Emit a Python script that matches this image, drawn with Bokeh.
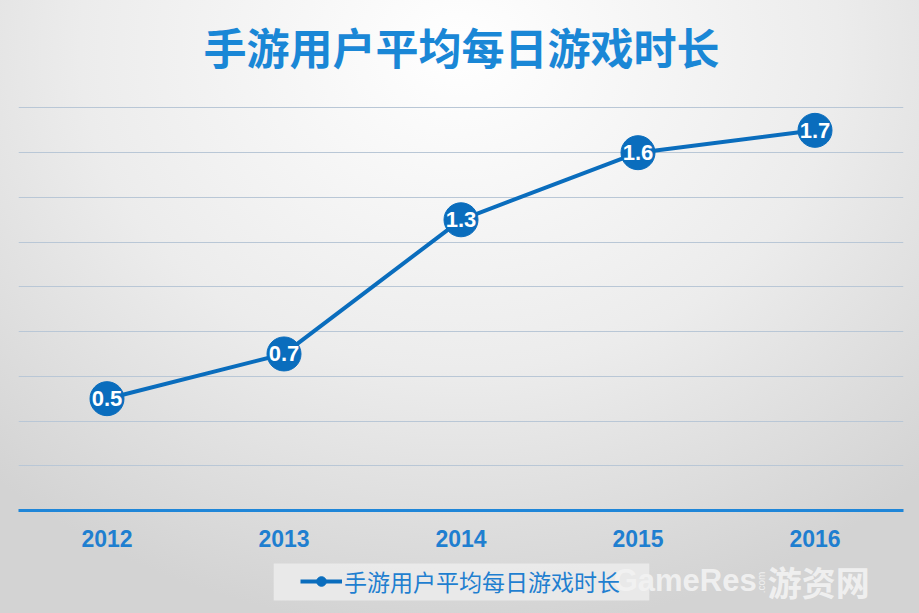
import math
from bokeh.plotting import figure
from bokeh.layouts import column
from bokeh.models import ColumnDataSource, Range1d, Legend, LegendItem, Label, BoxAnnotation
from bokeh.core.properties import value
from bokeh.embed import file_html
from bokeh.resources import INLINE

years = ["2012", "2013", "2014", "2015", "2016"]
hours = [0.5, 0.7, 1.3, 1.6, 1.7]
labels = ["0.5", "0.7", "1.3", "1.6", "1.7"]
series_name = "手游用户平均每日游戏时长"
title_text = "手游用户平均每日游戏时长"
grid_values = [0.2, 0.4, 0.6, 0.8, 1.0, 1.2, 1.4, 1.6, 1.8]

BLUE = "#0a6dbd"
src = ColumnDataSource(dict(x=years, y=hours, lab=labels))

W, H = 919, 613
H_TOP = 103
H_MAIN = 453
H_BOT = H - H_TOP - H_MAIN


def strip(h):
    f = figure(width=W, height=h, x_range=Range1d(0, W), y_range=Range1d(0, h),
               output_backend="svg", toolbar_location=None,
               min_border=0, min_border_left=0, min_border_right=0,
               min_border_top=0, min_border_bottom=0)
    f.axis.visible = False
    f.grid.visible = False
    f.background_fill_alpha = 0
    f.border_fill_alpha = 0
    f.outline_line_color = None
    return f


# title strip
t = strip(H_TOP)
t.add_layout(Label(x=460, y=H_TOP - 45, text=title_text, text_align="center",
                   text_baseline="middle", text_color="#1a87d6",
                   text_font="Noto Sans CJK SC", text_font_style="bold",
                   text_font_size="43px"))

# main chart
p = figure(width=W, height=H_MAIN, x_range=years, y_range=Range1d(0, 1.82),
           output_backend="svg", toolbar_location=None,
           min_border_left=18, min_border_right=16, min_border_top=0, min_border_bottom=46)
p.background_fill_alpha = 0
p.border_fill_alpha = 0
p.outline_line_color = None

p.yaxis.visible = False
p.xgrid.grid_line_color = None
p.ygrid.grid_line_color = "#b9c7d6"
p.ygrid.grid_line_width = 1
p.ygrid.ticker = grid_values

ax = p.xaxis[0]
ax.axis_line_color = "#1f86d8"
ax.axis_line_width = 3
ax.major_tick_line_color = None
ax.minor_tick_line_color = None
ax.major_label_text_color = "#1f7fd0"
ax.major_label_text_font = "Liberation Sans"
ax.major_label_text_font_style = "bold"
ax.major_label_text_font_size = "23px"
ax.major_label_standoff = 13

line = p.line("x", "y", source=src, line_color=BLUE, line_width=4)
dots = p.scatter("x", "y", source=src, size=34, fill_color=BLUE, line_color=BLUE)
p.text("x", "y", text="lab", source=src, text_color="white", text_font=value("Liberation Sans"),
       text_font_style="bold", text_font_size="22px", text_align="center", text_baseline="middle")

# legend strip below the chart (data units = pixels from bottom-left)
q = strip(H_BOT)
q.add_layout(BoxAnnotation(left=265, right=655, bottom=13, top=50,
                           fill_color="#eeeeee", fill_alpha=0.8, line_color=None))

lg_line = q.line([-10, -5], [-10, -5], line_color=BLUE, line_width=4)
lg_dot = q.scatter([-8], [-8], size=11, fill_color=BLUE, line_color=BLUE)
legend = Legend(items=[LegendItem(label=series_name, renderers=[lg_line, lg_dot])],
                location=(282, 15), orientation="horizontal",
                background_fill_alpha=0, border_line_color=None,
                label_text_color="#1f7fd0",
                label_text_font="Noto Sans CJK SC", label_text_font_size="23px",
                glyph_width=42, glyph_height=24, padding=0, margin=0, label_standoff=2,
                label_height=24)
q.add_layout(legend)

wm_color = "#f3f3f3"
q.add_layout(Label(x=618, y=33, text="GameRes", text_baseline="middle",
                   text_color=wm_color, text_alpha=0.9, text_font="Liberation Sans",
                   text_font_size="31px", text_font_style="bold"))
q.add_layout(Label(x=772, y=31, text=".com", angle=math.pi / 2, text_align="center",
                   text_baseline="middle", text_color=wm_color, text_alpha=0.9,
                   text_font="Liberation Sans", text_font_size="10px"))
q.add_layout(Label(x=778, y=32, text="游资网", text_baseline="middle",
                   text_color=wm_color, text_alpha=0.9, text_font="Noto Sans CJK SC",
                   text_font_size="34px", text_font_style="bold"))

layout = column(t, p, q, spacing=0)
layout.styles = {"background-image": "radial-gradient(ellipse 75% 95% at 50% 8%, #ffffff 0%, #ececec 55%, #d3d3d3 100%)",
                 "width": f"{W}px", "height": f"{H}px"}

open("out.html", "w").write(file_html(layout, INLINE))
